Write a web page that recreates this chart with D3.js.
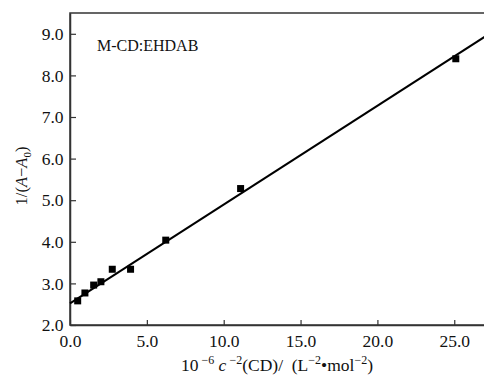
<!DOCTYPE html>
<html>
<head>
<meta charset="utf-8">
<script src="https://cdn.jsdelivr.net/npm/d3@7"></script>
<style>
  body { margin: 0; background: #fff; }
  text { font-family: "Liberation Serif", "Times New Roman", serif; fill: #111; }
</style>
</head>
<body>
<div id="chart"></div>
<script>
// data
const xValues = [0.5, 0.97, 1.54, 2.01, 2.75, 3.94, 6.23, 11.1, 25.1];
const yValues = [2.58, 2.77, 2.96, 3.04, 3.34, 3.34, 4.04, 5.28, 8.40];
const xTicks = [0, 5, 10, 15, 20, 25];
const yTicks = [2, 3, 4, 5, 6, 7, 8, 9];
// linear fit shown in the figure
const fitIntercept = 2.52;
const fitSlope = 0.2375;

const width = 484, height = 377;
const margin = { left: 70, top: 13 };
const plotW = 415, plotH = 312;

const svg = d3.select("#chart").append("svg")
  .attr("width", width)
  .attr("height", height);

const x = d3.scaleLinear().domain([0, 27]).range([margin.left, margin.left + plotW]);
const y = d3.scaleLinear().domain([2, 9.5]).range([margin.top + plotH, margin.top]);

// frame
svg.append("rect")
  .attr("x", x(0)).attr("y", y(9.5))
  .attr("width", x(27) - x(0)).attr("height", y(2) - y(9.5))
  .attr("fill", "none").attr("stroke", "#333").attr("stroke-width", 1.5);

// axes with inward ticks
const xAxis = svg.append("g")
  .attr("transform", `translate(0,${y(2)})`)
  .call(d3.axisBottom(x).tickValues(xTicks).tickFormat(d3.format(".1f")).tickSizeInner(-5).tickSizeOuter(0).tickPadding(10));
const yAxis = svg.append("g")
  .attr("transform", `translate(${x(0)},0)`)
  .call(d3.axisLeft(y).tickValues(yTicks).tickFormat(d3.format(".1f")).tickSizeInner(-6).tickSizeOuter(0).tickPadding(6.5));

[xAxis, yAxis].forEach(g => {
  g.select(".domain").attr("stroke", "#333").attr("stroke-width", 1.5);
  g.selectAll(".tick line").attr("stroke", "#333").attr("stroke-width", 1.2);
  g.selectAll(".tick text").attr("font-size", 17.5).attr("font-family", "Liberation Serif").attr("fill", "#111");
});

// fit line
svg.append("line")
  .attr("x1", x(0)).attr("y1", y(fitIntercept))
  .attr("x2", x(27)).attr("y2", y(fitIntercept + fitSlope * 27))
  .attr("stroke", "#000").attr("stroke-width", 2);

// points
const pts = xValues.map((v, i) => ({ x: v, y: yValues[i] }));
svg.append("g").selectAll("rect")
  .data(pts)
  .enter().append("rect")
  .attr("x", d => x(d.x) - 3.5)
  .attr("y", d => y(d.y) - 3.5)
  .attr("width", 7).attr("height", 7)
  .attr("fill", "#000");

// annotation
svg.append("text")
  .attr("x", 97).attr("y", 51)
  .attr("font-size", 16)
  .text("M-CD:EHDAB");

// x title
const xt = svg.append("text")
  .attr("x", 277).attr("y", 371)
  .attr("text-anchor", "middle")
  .attr("font-size", 17.5);
xt.append("tspan").text("10");
xt.append("tspan").attr("dy", -7).attr("font-size", 12).text(" \u22126");
xt.append("tspan").attr("dy", 7).text(" ");
xt.append("tspan").attr("font-style", "italic").text("c");
xt.append("tspan").attr("dy", -7).attr("font-size", 12).text(" \u22122");
xt.append("tspan").attr("dy", 7).text("(CD)/ \u00a0(L");
xt.append("tspan").attr("dy", -7).attr("font-size", 12).text("\u22122");
xt.append("tspan").attr("dy", 7).text("\u2022mol");
xt.append("tspan").attr("dy", -7).attr("font-size", 12).text("\u22122");
xt.append("tspan").attr("dy", 7).text(")");

// y title
const yt = svg.append("text")
  .attr("transform", `translate(27,176) rotate(-90)`)
  .attr("text-anchor", "middle")
  .attr("font-size", 16.5);
yt.append("tspan").text("1/(");
yt.append("tspan").attr("font-style", "italic").text("A");
yt.append("tspan").text("\u2212");
yt.append("tspan").attr("font-style", "italic").text("A");
yt.append("tspan").attr("dy", 4).attr("font-size", 11).text("0");
yt.append("tspan").attr("dy", -4).text(")");
</script>
</body>
</html>
